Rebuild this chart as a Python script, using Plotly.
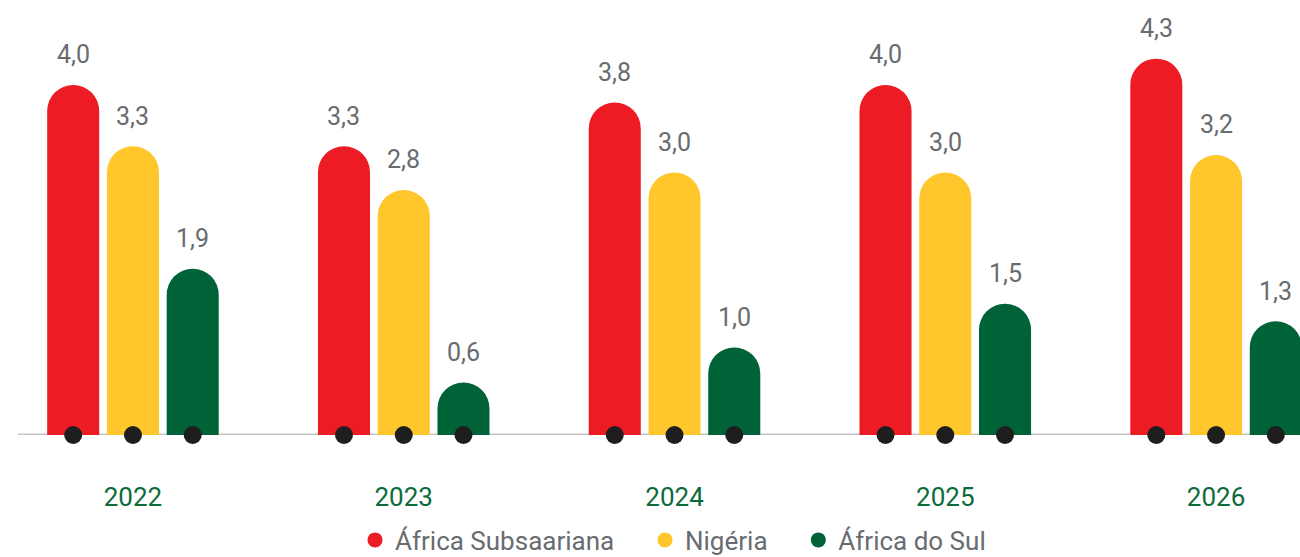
import plotly.graph_objects as go

years = ["2022", "2023", "2024", "2025", "2026"]
series_names = ["África Subsaariana", "Nigéria", "África do Sul"]
africa_subsaariana = [4.0, 3.3, 3.8, 4.0, 4.3]
nigeria = [3.3, 2.8, 3.0, 3.0, 3.2]
africa_do_sul = [1.9, 0.6, 1.0, 1.5, 1.3]
colors = ["#ED1C24", "#FFC72C", "#006338"]

series = [africa_subsaariana, nigeria, africa_do_sul]
idx = list(range(len(years)))

BARGAP = 0.338
BARGROUPGAP = 0.129
n = len(series)
slot = (1 - BARGAP) / n

def fmt(v):
    return f"{v:.1f}".replace(".", ",")

fig = go.Figure()

for j, (name, vals, col) in enumerate(zip(series_names, series, colors)):
    fig.add_trace(go.Bar(
        x=idx, y=vals, name=name, marker=dict(color=col, line=dict(width=0)),
        showlegend=False, hoverinfo="skip",
    ))

for j, (name, vals, col) in enumerate(zip(series_names, series, colors)):
    off = (j - (n - 1) / 2) * slot
    fig.add_trace(go.Scatter(
        x=[i + off for i in idx], y=[0] * len(idx), mode="markers",
        marker=dict(color="#1E1E1E", size=18), showlegend=False,
        hoverinfo="skip", cliponaxis=False,
    ))
    for i, v in zip(idx, vals):
        fig.add_annotation(
            x=i + off, y=v, text=fmt(v), showarrow=False, yanchor="middle",
            yshift=30, font=dict(size=25, color="#686C70", family="Roboto"),
        )

PAD = "\u00a0" * 4
for name, col in zip(series_names, colors):
    fig.add_trace(go.Scatter(
        x=[None], y=[None], mode="markers", name=name + PAD,
        marker=dict(color=col, size=15, symbol="circle"),
    ))

fig.add_shape(type="line", xref="x", yref="y", x0=-0.425, x1=4.4, y0=0, y1=0,
              line=dict(color="#C6C6CA", width=3), layer="below")

fig.update_layout(
    width=1300, height=557,
    margin=dict(l=0, r=0, t=0, b=122, autoexpand=False),
    paper_bgcolor="white", plot_bgcolor="white",
    barmode="group", bargap=BARGAP, bargroupgap=BARGROUPGAP,
    barcornerradius="50%",
    font=dict(family="Roboto", color="#686C70"),
    showlegend=True,
    legend=dict(orientation="h", x=0.5277, xanchor="center",
                yref="container", y=1 - 540 / 557, yanchor="middle",
                font=dict(size=26, color="#686C70"),
                itemclick=False, itemdoubleclick=False),
    xaxis=dict(range=[-0.491, 4.310], tickvals=idx, ticktext=years,
               showgrid=False, zeroline=False, showline=False,
               tickfont=dict(size=26, color="#0B6B3A"),
               ticks="", ticklabelstandoff=44, fixedrange=True,
               automargin=False),
    yaxis=dict(range=[0, 4.97], visible=False, showgrid=False,
               zeroline=False, fixedrange=True, automargin=False),
)

fig.write_html("out.html", config={"displayModeBar": False},
               post_script="document.body.style.margin='0';document.body.style.overflow='hidden';")
